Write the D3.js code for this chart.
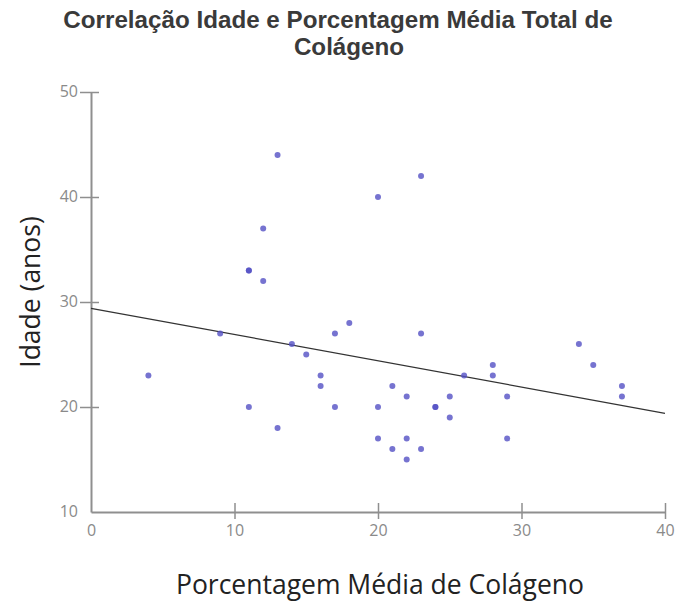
<!DOCTYPE html>
<html>
<head>
<meta charset="utf-8">
<script src="https://cdn.jsdelivr.net/npm/d3@7"></script>
<style>
  html, body { margin: 0; padding: 0; background: #fff; }
  svg { display: block; }
</style>
</head>
<body>
<svg id="chart" width="676" height="605"></svg>
<script>
// Porcentagem média de colágeno (x) vs idade em anos (y)
const colageno = [4, 9, 11, 11, 11, 12, 12, 13, 13, 14, 15, 16, 16, 17, 17, 18, 20, 20, 20, 21, 21, 22, 22, 22, 23, 23, 23, 24, 24, 25, 25, 26, 28, 28, 29, 29, 34, 35, 37, 37];
const idade    = [23, 27, 33, 33, 20, 37, 32, 44, 18, 26, 25, 23, 22, 27, 20, 28, 40, 20, 17, 22, 16, 21, 17, 15, 42, 27, 16, 20, 20, 21, 19, 23, 24, 23, 21, 17, 26, 24, 22, 21];

// Linha de tendência (extremos em x = 0 e x = 40)
const tendenciaX = [0, 40];
const tendenciaY = [29.4, 19.4];

const xTicks = [0, 10, 20, 30, 40];
const yTicks = [10, 20, 30, 40, 50];

const titulo = ["Correlação Idade e Porcentagem Média Total de", "Colágeno"];
const tituloX = "Porcentagem Média de Colágeno";
const tituloY = "Idade (anos)";

const svg = d3.select("#chart");

const x = d3.scaleLinear().domain([0, 40]).range([91, 665]);
const y = d3.scaleLinear().domain([10, 50]).range([512, 92]);

// Title
svg.append("text")
  .attr("text-anchor", "middle")
  .attr("font-family", "Liberation Sans, Arial, sans-serif")
  .attr("font-weight", "bold")
  .attr("font-size", 24.2)
  .attr("fill", "#3a3a3a")
  .selectAll("tspan")
  .data(titulo)
  .join("tspan")
  .attr("x", (d, i) => i === 0 ? 338 : 349)
  .attr("y", (d, i) => 28 + i * 27)
  .text(d => d);

// Axes
const axisColor = "#8f8f8f";
const tickColor = "#8a8a8a";

const xAxis = svg.append("g")
  .attr("transform", `translate(0,${y(10)})`)
  .call(d3.axisBottom(x).tickValues(xTicks).tickSize(0).tickPadding(13));
const yAxis = svg.append("g")
  .attr("transform", `translate(${x(0)},0)`)
  .call(d3.axisLeft(y).tickValues(yTicks).tickSize(0).tickPadding(13));

[xAxis, yAxis].forEach(g => {
  g.select(".domain").attr("stroke", axisColor).attr("stroke-width", 2);
  g.selectAll("text")
    .attr("font-family", "Open Sans, sans-serif")
    .attr("font-size", 16)
    .attr("fill", tickColor);
});

// Ticks cross the axis line
xAxis.selectAll(".tick").filter(d => d !== 0).append("line")
  .attr("y1", -9).attr("y2", 7).attr("stroke", axisColor).attr("stroke-width", 1.5);
yAxis.selectAll(".tick").filter(d => d !== 10).append("line")
  .attr("x1", -11).attr("x2", 8).attr("stroke", axisColor).attr("stroke-width", 1.5);
yAxis.selectAll(".tick text").attr("dy", "0.25em");

// Trend line
svg.append("line")
  .attr("x1", x(tendenciaX[0])).attr("y1", y(tendenciaY[0]))
  .attr("x2", x(tendenciaX[1])).attr("y2", y(tendenciaY[1]))
  .attr("stroke", "#333").attr("stroke-width", 1.2);

// Points
const pontos = colageno.map((c, i) => ({ c, a: idade[i] }));
svg.append("g")
  .selectAll("circle")
  .data(pontos)
  .join("circle")
  .attr("cx", d => x(d.c))
  .attr("cy", d => y(d.a))
  .attr("r", 3)
  .attr("fill", "#5450c4")
  .attr("fill-opacity", 0.8);

// Axis titles
svg.append("text")
  .attr("x", 380).attr("y", 594)
  .attr("text-anchor", "middle")
  .attr("font-family", "Open Sans, sans-serif")
  .attr("font-size", 26.5)
  .attr("fill", "#222")
  .text(tituloX);

svg.append("text")
  .attr("transform", "translate(40,292) rotate(-90)")
  .attr("text-anchor", "middle")
  .attr("font-family", "Open Sans, sans-serif")
  .attr("font-size", 26.5)
  .attr("fill", "#222")
  .text(tituloY);
</script>
</body>
</html>
